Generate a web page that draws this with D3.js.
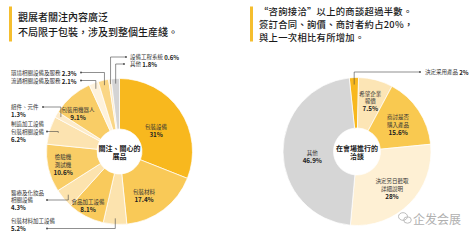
<!DOCTYPE html>
<html><head><meta charset="utf-8">
<script src="https://cdn.jsdelivr.net/npm/d3@7"></script>
<style>
body{margin:0;background:#fff}
svg{display:block}
text{font-family:"Noto Sans CJK TC","Noto Sans CJK SC",sans-serif}
</style></head>
<body><svg id="c" width="476" height="240"></svg>
<script>
// ---------- data ----------
const leftCategories = ["包裝設備","包裝材料","包裝材料加工設備","食品加工設備","醫療及化妝品相關設備","檢驗機測試機","制造加工設備包裝相關設備","組件、元件","包裝用機器人","流通相關設備及服務","環境相關設備及服務","設備工程系統","其他"];
const leftValues = [31,17.4,5.2,8.1,4.3,10.6,6.2,1.3,9.1,2.1,2.3,0.6,1.8];
const rightCategories = ["決定采用產品","希望企業報價","商討是否購入產品","決定另日聽取詳細說明","其他"];
const rightValues = [2,7.5,15.6,28,46.9];
const leftTitle = ["觀展者關注內容廣泛","不局限于包裝，涉及到整個生産綫。"];
const rightTitle = ["“咨詢接洽”以上的商談超過半數。","簽訂合同、詢價、商討者約占20%，","與上一次相比有所增加。"];
const leftCenterText = ["關注、關心的","展品"];
const rightCenterText = ["在會場進行的","洽談"];
const watermark = "企发会展";

// ---------- styles ----------
const leftColors = ["#F8B81E","#F9C957","#FCE3AE","#F9CA5C","#FCE3AE","#F9CD66","#FCE3B0","#FDEBC9","#F9CD66","#FEF2DC","#FAD685","#FCE8C2","#D4D4D4"];
const rightColors = ["#F8B81E","#FCE5B5","#F9C950","#FEF0D4","#D6D6D6"];

// ---------- layout ----------
const L = {cx:119.5, cy:151.5, r0:22.5, r1:73, start:0};
const R = {cx:357, cy:151.5, r0:23.5, r1:74, start:-6};
const leftInner = [
  {i:0, lines:["包裝設備"], r:42, da:4.9},
  {i:1, lines:["包裝材料"], r:51, da:8.3},
  {i:3, lines:["食品加工設備"], r:63, da:2.5},
  {i:5, lines:["檢驗機","測試機"], r:58, da:0},
  {i:8, lines:["包裝用機器人"], r:56, da:-7}
];
const rightInner = [
  {i:1, lines:["希望企業","報價"], r:52, da:0},
  {i:2, lines:["商討是否","購入產品"], r:49, da:0.8},
  {i:3, lines:["決定另日聽取","詳細說明"], r:51, da:2},
  {i:4, lines:["其他"], r:45, da:-6}
];
// external labels: leader from slice (radius lr) vertical to ty then horizontal to dot x (dx); text at tx
const leftOuter = [
  {i:11, lr:68, ty:57, dx:126, tx:130, lines:["設備工程系統"], inline:true, lineRow:0},
  {i:12, lr:68, ty:64, dx:124, tx:130, lines:["其他"], inline:true, lineRow:0},
  {i:10, lr:68, ty:72.5, dx:81, tx:11, lines:["環境相關設備及服務"], inline:true, lineRow:0},
  {i:9, lr:67, ty:80.5, dx:81, tx:11, lines:["流通相關設備及服務"], inline:true, lineRow:0},
  {i:7, lr:68, ty:107, dx:43, tx:11, lines:["組件、元件"], inline:false, lineRow:0},
  {i:6, lr:64, ty:131.5, dx:47, tx:11, lines:["制造加工設備","包裝相關設備"], inline:false, lineRow:1},
  {i:4, lr:67, ty:200, dx:47, tx:11, lines:["醫療及化妝品","相關設備"], inline:false, lineRow:1},
  {i:2, lr:67, ty:228.5, dx:47, tx:11, lines:["包裝材料加工設備"], inline:false, lineRow:1}
];
const rightOuter = [
  {i:0, lr:67, ty:72, dx:420, tx:425, lines:["決定采用產品"], inline:true, lineRow:0}
];

const svg = d3.select("#c");
const toRad = d => d*Math.PI/180;
const pct = v => v + "%";
const lineH = 7.5;

function header(x, bar, lines, y0, dy, fs, ls){
  svg.append("rect").attr("x",bar).attr("y",6.5).attr("width",3).attr("height",35).attr("fill","#F5BE2E");
  lines.forEach((t,k)=>svg.append("text").attr("x",x).attr("y",y0+k*dy)
    .attr("dominant-baseline","central").attr("font-size",fs).attr("letter-spacing",ls)
    .attr("fill","#1a1a1a").attr("font-weight",500).text(t));
}
header(18, 9, leftTitle, 16, 15, 10, 0);
header(259, 250, rightTitle, 11, 12.8, 9.3, 0.3);

function donut(cfg, cats, vals, colors, inner, outer, centerText){
  const pie = d3.pie().sort(null).value(d=>d)
    .startAngle(toRad(cfg.start)).endAngle(toRad(cfg.start+360));
  const arcs = pie(vals);
  const arc = d3.arc().innerRadius(cfg.r0).outerRadius(cfg.r1);
  const g = svg.append("g").attr("transform",`translate(${cfg.cx},${cfg.cy})`);
  g.selectAll("path").data(arcs).join("path")
    .attr("d",arc).attr("fill",(d,i)=>colors[i]).attr("stroke","#fff").attr("stroke-width",0.7);
  const polar = (a, r) => [r*Math.sin(a), -r*Math.cos(a)];
  // inner labels
  inner.forEach(o=>{
    const a = arcs[o.i]; const mid = (a.startAngle+a.endAngle)/2 + toRad(o.da);
    const [x,y] = polar(mid, o.r);
    const n = o.lines.length + 1;
    const y0 = y - (n-1)*lineH/2;
    o.lines.forEach((t,k)=>g.append("text").attr("x",x).attr("y",y0+k*lineH)
      .attr("text-anchor","middle").attr("dominant-baseline","central")
      .attr("font-size",5.5).attr("fill","#333").text(t));
    g.append("text").attr("x",x).attr("y",y0+o.lines.length*lineH)
      .attr("text-anchor","middle").attr("dominant-baseline","central")
      .attr("font-size",6.3).attr("font-weight","bold").attr("fill","#222").text(pct(vals[o.i]));
  });
  // outer labels
  outer.forEach(o=>{
    const a = arcs[o.i]; const mid = (a.startAngle+a.endAngle)/2;
    const [px,py] = polar(mid, o.lr);
    const sx = cfg.cx+px, sy = cfg.cy+py;
    svg.append("path").attr("d",`M${sx},${sy}V${o.ty}H${o.dx}`)
      .attr("fill","none").attr("stroke","#444").attr("stroke-width",0.6);
    svg.append("circle").attr("cx",o.dx).attr("cy",o.ty).attr("r",0.9).attr("fill","#444");
    const ty0 = o.ty - o.lineRow*lineH;
    if(o.inline){
      const t = svg.append("text").attr("x",o.tx).attr("y",ty0).attr("dominant-baseline","central").attr("fill","#333");
      t.append("tspan").attr("font-size",5.5).text(o.lines[0]+" ");
      t.append("tspan").attr("font-size",6).attr("font-weight","bold").attr("fill","#222").text(pct(vals[o.i]));
    } else {
      o.lines.forEach((s,k)=>svg.append("text").attr("x",o.tx).attr("y",ty0+k*lineH)
        .attr("dominant-baseline","central").attr("font-size",5.5).attr("fill","#333").text(s));
      svg.append("text").attr("x",o.tx).attr("y",ty0+o.lines.length*lineH)
        .attr("dominant-baseline","central").attr("font-size",6).attr("font-weight","bold").attr("fill","#222").text(pct(vals[o.i]));
    }
  });
  centerText.forEach((t,k)=>g.append("text").attr("x",0).attr("y",-4+k*8.5)
    .attr("text-anchor","middle").attr("dominant-baseline","central")
    .attr("font-size",7).attr("font-weight","bold").attr("fill","#1a1a1a").text(t));
}
donut(L, leftCategories, leftValues, leftColors, leftInner, leftOuter, leftCenterText);
donut(R, rightCategories, rightValues, rightColors, rightInner, rightOuter, rightCenterText);

// watermark
const wm = svg.append("g").attr("fill","none").attr("stroke","#b5b5b5").attr("stroke-width",0.9);
wm.append("ellipse").attr("cx",403).attr("cy",216.5).attr("rx",4.5).attr("ry",3.8);
wm.append("ellipse").attr("cx",407.5).attr("cy",220).attr("rx",3.8).attr("ry",3.2);
svg.append("text").attr("x",413).attr("y",218.5).attr("dominant-baseline","central")
  .attr("font-size",12).attr("fill","#b0b0b0").attr("font-family","Noto Sans CJK SC").text(watermark);
</script>
</body></html>
